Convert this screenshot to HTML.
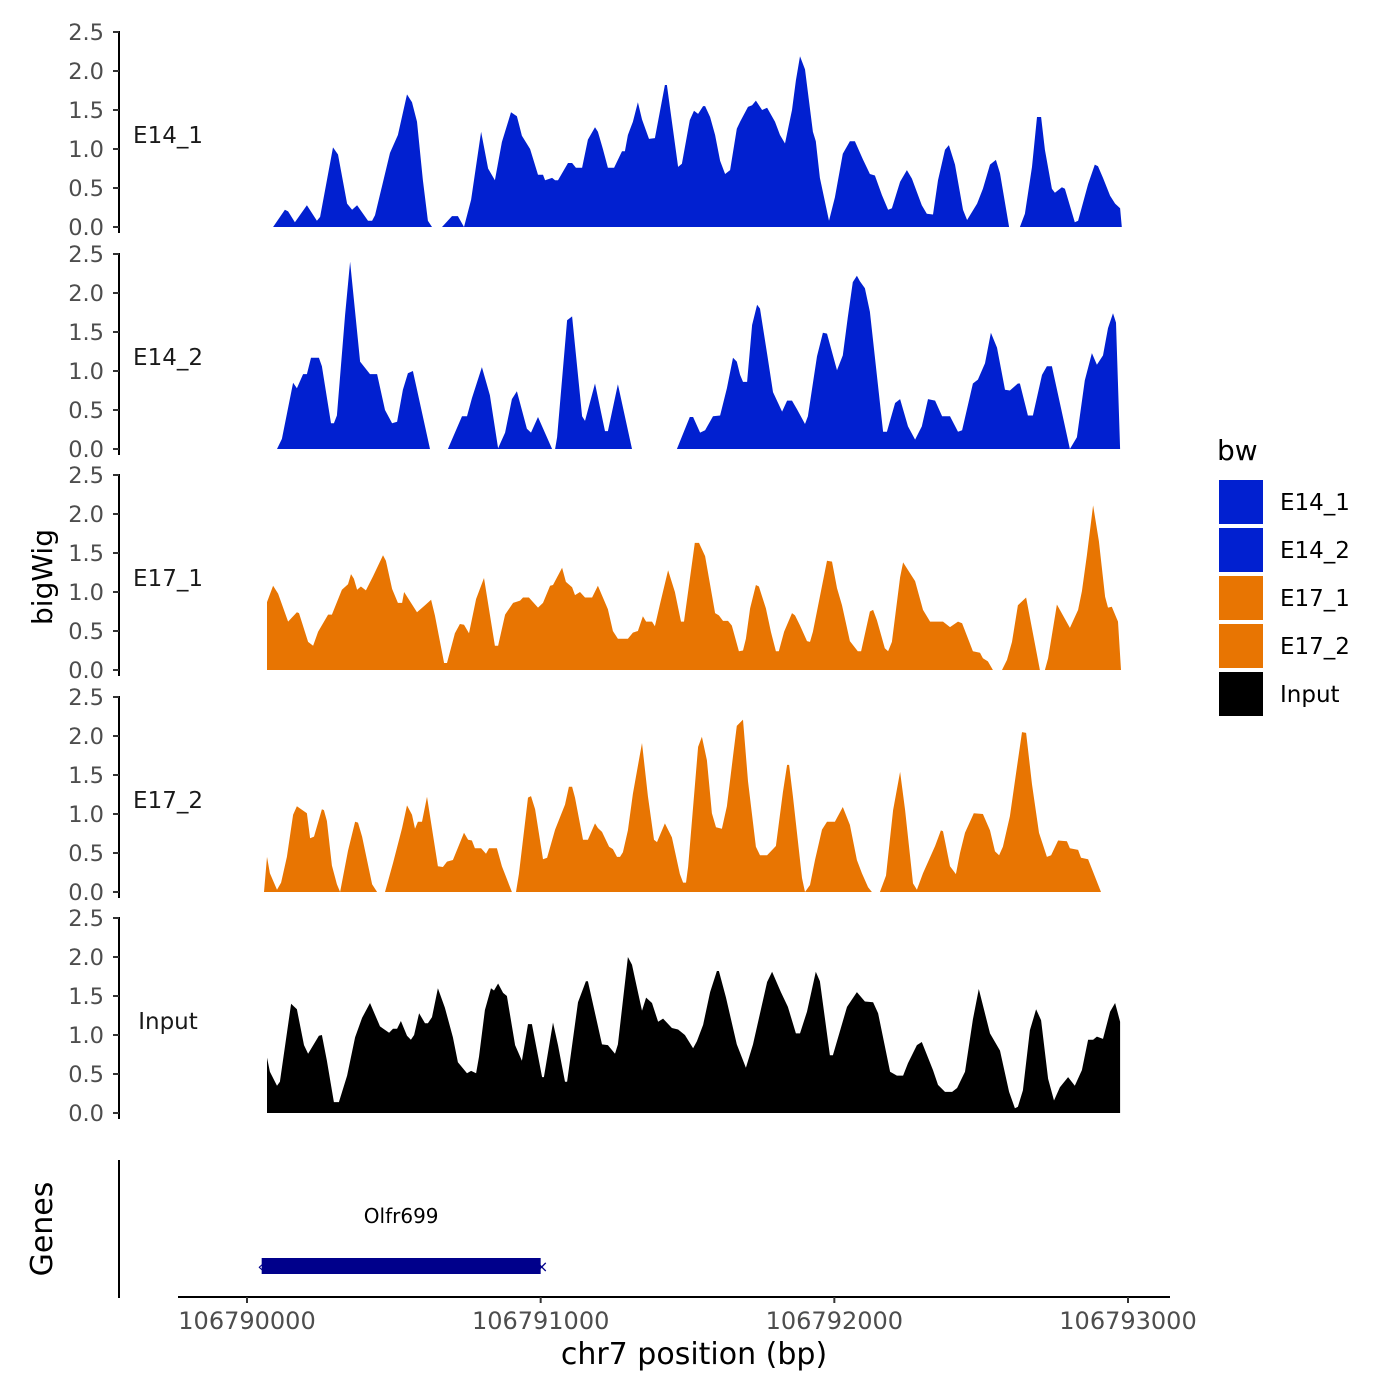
<!DOCTYPE html>
<html><head><meta charset="utf-8"><style>
html,body{margin:0;padding:0;background:#fff;}
svg{display:block;font-family:"DejaVu Sans","Liberation Sans",sans-serif;}
</style></head><body>
<svg id="chart" width="1400" height="1400" viewBox="0 0 1400 1400" xmlns="http://www.w3.org/2000/svg">
<g id="panels"></g>
<g id="legend"></g>
<g id="xaxis"></g>
<text x="0" y="0" transform="translate(52,577) rotate(-90)" text-anchor="middle" font-size="28" fill="#000">bigWig</text>
<text x="0" y="0" transform="translate(52,1229) rotate(-90)" text-anchor="middle" font-size="30" fill="#000">Genes</text>
<text x="694" y="1364" text-anchor="middle" font-size="30" fill="#000">chr7 position (bp)</text>
</svg>
<script>
const START = 106790000;
const trackNames = ["E14_1","E14_2","E17_1","E17_2","Input"];
const trackColors = ["#0120D0","#0120D0","#E87502","#E87502","#000000"];
const yTicks = [0,0.5,1,1.5,2,2.5];
const xTicks = [106790000,106791000,106792000,106793000];
const xTickLabels = ["106790000","106791000","106792000","106793000"];
const genes = ["Olfr699"];
const geneStart = [106790050];
const geneEnd = [106791000];

const posE14_1 = [89,129,140,163,204,238,249,293,310,341,358,375,412,426,436,487,514,545,562,579,599,616,630,640,664,698,718,739,763,797,821,844,868,899,919,936,964,991,1008,1015,1039,1049,1059,1093,1107,1120,1141,1161,1185,1195,1212,1229,1250,1277,1287,1297,1314,1331,1345,1369,1389,1423,1430,1468,1481,1508,1522,1536,1553,1560,1577,1594,1611,1628,1645,1668,1679,1706,1720,1733,1754,1771,1798,1815,1832,1856,1869,1883,1900,1927,1937,1951,1982,2002,2029,2053,2070,2097,2121,2138,2162,2183,2196,2224,2247,2264,2298,2315,2336,2353,2377,2390,2411,2438,2452,2486,2506,2530,2550,2564,2595,2610,2632,2649,2673,2690,2704,2717,2741,2751,2775,2785,2819,2830,2864,2887,2898,2915,2939,2956,2973,2979];
const valE14_1 = [0,.22,.2,.06,.28,.08,.13,1.02,.93,.3,.22,.28,.08,.08,.15,.95,1.18,1.7,1.6,1.35,.6,.08,0,null,0,.14,.14,0,.35,1.22,.75,.6,1.09,1.47,1.42,1.17,1.0,.67,.67,.6,.63,.6,.6,.82,.82,.76,.76,1.12,1.28,1.22,1.0,.76,.76,.97,.97,1.18,1.35,1.6,1.38,1.13,1.14,1.82,1.82,.77,.81,1.37,1.49,1.45,1.55,1.55,1.41,1.18,.85,.68,.73,1.26,1.35,1.54,1.56,1.62,1.5,1.53,1.35,1.18,1.07,1.5,1.88,2.19,2.02,1.22,1.1,.63,.08,.38,.94,1.1,1.1,.87,.68,.66,.41,.22,.24,.58,.73,.62,.28,.17,.16,.6,.99,1.05,.8,.22,.09,.3,.49,.8,.86,.69,0,null,0,.17,.77,1.41,1.41,.99,.49,.44,.51,.49,.06,.08,.55,.8,.78,.63,.4,.3,.24,0];

const posE14_2 = [102,119,157,170,191,204,218,245,255,286,296,306,334,351,385,419,443,470,494,511,531,548,565,623,650,684,732,749,766,800,827,855,879,902,919,953,967,991,1039,1044,1049,1056,1090,1107,1141,1151,1185,1219,1229,1263,1311,1400,1464,1508,1519,1543,1560,1587,1611,1634,1655,1668,1679,1689,1703,1720,1737,1747,1771,1791,1822,1839,1856,1873,1900,1910,1941,1961,1975,2009,2029,2046,2063,2077,2087,2104,2121,2166,2179,2207,2224,2251,2275,2298,2319,2343,2367,2394,2421,2435,2472,2489,2513,2533,2554,2581,2598,2625,2632,2659,2676,2707,2724,2741,2802,2826,2853,2877,2894,2915,2932,2949,2959,2973];
const valE14_2 = [0,.13,.85,.78,.96,.96,1.17,1.17,1.06,.33,.33,.43,1.72,2.4,1.12,.96,.96,.5,.33,.35,.76,.97,1.0,0,null,0,.42,.42,.65,1.05,.69,.01,.21,.64,.74,.26,.21,.41,0,null,0,.15,1.65,1.7,.42,.36,.84,.23,.23,.83,0,null,0,.41,.41,.21,.24,.42,.43,.78,1.17,1.12,.95,.86,.86,1.59,1.85,1.8,1.22,.73,.48,.62,.62,.51,.32,.42,1.19,1.49,1.48,1.01,1.2,1.69,2.14,2.22,2.15,2.06,1.76,.22,.22,.59,.64,.29,.12,.29,.64,.62,.42,.42,.22,.24,.84,.89,1.1,1.49,1.3,.76,.75,.84,.84,.43,.43,.95,1.06,1.06,0,.15,.88,1.23,1.08,1.2,1.55,1.74,1.62,0];

const posE17_1 = [68,89,106,140,170,177,208,225,242,276,289,323,344,354,364,375,388,405,429,463,473,494,514,528,535,579,606,627,640,671,681,708,725,739,756,780,807,844,855,879,906,930,940,960,991,1008,1032,1042,1073,1086,1107,1117,1134,1151,1175,1195,1229,1246,1263,1297,1314,1331,1348,1359,1379,1389,1406,1434,1457,1478,1488,1525,1539,1560,1594,1607,1621,1638,1651,1675,1689,1699,1713,1733,1743,1767,1784,1801,1811,1829,1856,1866,1883,1907,1917,1927,1975,1992,2009,2026,2053,2080,2091,2121,2132,2145,2172,2183,2196,2224,2234,2275,2302,2326,2370,2394,2421,2435,2472,2496,2506,2523,2540,2555,2571,2588,2605,2625,2653,2700,2708,2717,2728,2758,2802,2830,2843,2860,2881,2901,2922,2932,2945,2966,2976];
const valE17_1 = [.87,1.08,.98,.62,.74,.73,.36,.31,.49,.71,.71,1.03,1.1,1.23,1.17,1.03,1.07,1.02,1.2,1.47,1.4,1.04,.86,.86,1.0,.74,.83,.9,.7,.09,.09,.47,.59,.58,.47,.91,1.18,.31,.31,.71,.86,.89,.93,.93,.8,.86,1.08,1.09,1.31,1.13,1.06,.96,1.0,.93,.93,1.08,.78,.5,.4,.4,.48,.5,.69,.62,.62,.56,.84,1.28,1.0,.62,.62,1.63,1.63,1.46,.73,.7,.63,.63,.57,.24,.25,.4,.79,1.09,1.07,.79,.49,.24,.24,.49,.73,.7,.57,.37,.36,.49,1.4,1.39,1.05,.83,.37,.24,.24,.75,.77,.64,.28,.24,.36,1.19,1.38,1.14,.77,.62,.62,.55,.62,.6,.24,.22,.15,.11,0,null,0,.13,.36,.83,.93,0,null,0,.15,.84,.54,.77,1.01,1.47,2.11,1.65,.94,.8,.81,.62,0];

const posE17_2 = [58,68,78,102,116,136,157,170,204,215,228,255,262,272,289,306,317,344,368,378,392,426,443,456,470,497,528,545,562,572,582,596,613,650,667,681,701,739,753,766,776,797,814,824,851,868,902,909,916,926,957,967,981,1008,1022,1049,1083,1096,1107,1117,1144,1161,1185,1195,1209,1233,1246,1260,1270,1280,1297,1314,1345,1365,1386,1396,1423,1447,1474,1485,1495,1502,1536,1549,1566,1583,1597,1617,1634,1655,1668,1689,1706,1733,1747,1771,1801,1825,1839,1846,1859,1890,1900,1917,1934,1958,1975,2002,2029,2053,2077,2094,2115,2128,2140,2155,2176,2200,2224,2241,2268,2281,2302,2343,2363,2370,2394,2414,2428,2445,2475,2506,2530,2547,2561,2574,2598,2615,2639,2653,2673,2697,2724,2738,2762,2792,2802,2830,2840,2864,2908];
const valE17_2 = [0,.45,.24,.03,.12,.45,.99,1.1,1.01,.69,.71,1.06,1.05,.91,.34,.1,0,.53,.9,.89,.71,.1,0,null,0,.37,.82,1.11,.99,.81,.9,.9,1.22,.33,.32,.39,.41,.76,.67,.66,.56,.56,.49,.56,.56,.33,0,null,0,.23,1.21,1.23,1.06,.42,.44,.8,1.12,1.35,1.35,1.21,.67,.67,.88,.82,.77,.58,.55,.45,.45,.51,.79,1.26,1.91,1.23,.67,.64,.88,.7,.23,.12,.12,.32,1.86,1.99,1.69,1.01,.83,.81,1.1,1.74,2.13,2.21,1.42,.58,.47,.47,.59,1.28,1.63,1.63,1.23,.18,0,.09,.41,.8,.9,.9,1.09,.86,.41,.24,.06,0,null,0,.21,1.05,1.54,1.05,.11,.03,.24,.59,.79,.78,.33,.23,.5,.76,1.01,1.0,.79,.52,.47,.58,.97,1.42,2.05,2.04,1.38,.76,.45,.47,.66,.65,.56,.54,.44,.42,0];

const posInput = [68,78,102,112,150,170,194,208,245,255,272,296,313,341,368,392,419,453,484,497,511,524,545,558,569,586,606,616,630,650,674,701,718,749,763,780,790,810,831,841,855,872,885,913,936,957,970,1005,1011,1042,1059,1083,1090,1127,1154,1161,1209,1229,1253,1263,1297,1311,1345,1359,1379,1400,1417,1447,1468,1491,1519,1532,1553,1577,1600,1607,1631,1668,1699,1723,1771,1788,1818,1842,1869,1883,1907,1937,1951,1985,1995,2043,2077,2104,2132,2149,2190,2213,2234,2251,2281,2298,2336,2353,2377,2401,2418,2445,2472,2492,2530,2564,2595,2615,2625,2642,2666,2687,2704,2728,2748,2768,2796,2819,2843,2864,2881,2894,2915,2939,2956,2973];
const valInput = [.71,.53,.35,.4,1.4,1.33,.87,.76,.99,1.0,.67,.14,.14,.48,.97,1.22,1.41,1.11,1.03,1.08,1.08,1.18,.99,.94,1.0,1.28,1.15,1.15,1.23,1.6,1.35,.97,.65,.51,.54,.51,.72,1.32,1.6,1.57,1.66,1.54,1.5,.87,.67,1.14,1.14,.46,.46,1.16,.87,.4,.4,1.42,1.69,1.69,.88,.87,.76,.88,2.0,1.9,1.31,1.48,1.41,1.17,1.21,1.09,1.07,1.0,.83,.92,1.13,1.55,1.82,1.82,1.48,.88,.58,.88,1.68,1.81,1.55,1.36,1.02,1.02,1.3,1.81,1.69,.74,.74,1.36,1.55,1.43,1.42,1.28,.53,.48,.48,.64,.87,.91,.55,.36,.27,.27,.32,.53,1.2,1.59,1.02,.8,.27,.06,.08,.29,1.06,1.33,1.19,.44,.16,.33,.46,.35,.55,.94,.94,.98,.95,1.3,1.41,1.17];

const trackPos = [posE14_1,posE14_2,posE17_1,posE17_2,posInput];
const trackVal = [valE14_1,valE14_2,valE17_1,valE17_2,valInput];

const NS = "http://www.w3.org/2000/svg";
const X0 = 247, X1 = 1128;
function xScale(bp){ return X0 + (bp - START) / 3000 * (X1 - X0); }
const panelZero = [227,449,670,892,1113];
const PXU = 78;
function yScale(i, v){ return panelZero[i] - v * PXU; }
function mk(tag, attrs, parent){ const e = document.createElementNS(NS, tag); for (const k in attrs) e.setAttribute(k, attrs[k]); parent.appendChild(e); return e; }

const panels = document.getElementById("panels");
trackNames.forEach((name, i) => {
  const g = mk("g", {}, panels);
  
  
  const ax = mk("line", {x1:119, x2:119, y1:yScale(i,2.5)-1, y2:panelZero[i]+6, stroke:"#000", "stroke-width":2}, g);
  
  
  yTicks.forEach(t => {
    const y = yScale(i, t);
    const tk = mk("line", {x1:113, x2:119, y1:y, y2:y, stroke:"#333", "stroke-width":2}, g);
    
    
    const tl = mk("text", {x:104, y:y+8, "text-anchor":"end", "font-size":22.5, fill:"#4d4d4d"}, g);
    tl.textContent = t.toFixed(1);
    
    
  });
  const lab = mk("text", {x:168, y:panelZero[i]-84, "text-anchor":"middle", "font-size":23, fill:"#1a1a1a"}, g);
  lab.textContent = name;
  
  
  const P = trackPos[i], V = trackVal[i];
  let d = "", seg = [];
  const flush = () => {
    if (seg.length) {
      const base = panelZero[i];
      d += "M" + xScale(START + seg[0][0]).toFixed(1) + "," + base;
      seg.forEach(p => { d += "L" + xScale(START + p[0]).toFixed(1) + "," + yScale(i, p[1]).toFixed(1); });
      d += "L" + xScale(START + seg[seg.length-1][0]).toFixed(1) + "," + base + "Z";
    }
    seg = [];
  };
  for (let k = 0; k < P.length; k++) {
    if (V[k] === null) flush(); else seg.push([P[k], V[k]]);
  }
  flush();
  const area = mk("path", {d:d, fill:trackColors[i]}, g);
  
  
});

const xa = document.getElementById("xaxis");
const gax = mk("line", {x1:119, x2:119, y1:1160, y2:1298, stroke:"#000", "stroke-width":2}, xa);


const bx = mk("line", {x1:178, x2:1170, y1:1297, y2:1297, stroke:"#000", "stroke-width":2}, xa);


xTicks.forEach((t, k) => {
  const x = xScale(t);
  const tk = mk("line", {x1:x, x2:x, y1:1297, y2:1303, stroke:"#333", "stroke-width":2}, xa);
  
  
  const tl = mk("text", {x:x, y:1329, "text-anchor":"middle", "font-size":24, fill:"#4d4d4d"}, xa);
  tl.textContent = xTickLabels[k];
  
  
});
genes.forEach((gn, k) => {
  const x1 = xScale(geneStart[k]), x2 = xScale(geneEnd[k]);
  const r = mk("rect", {x:x1, y:1258, width:x2-x1, height:16, fill:"#00008B"}, xa);
  
  
  const m1 = mk("text", {x:x1-1, y:1272, "text-anchor":"middle", "font-size":16, fill:"#00008B"}, xa);
  m1.textContent = "‹";
  
  
  const m2 = mk("text", {x:x2+1, y:1272, "text-anchor":"middle", "font-size":16, fill:"#00008B"}, xa);
  m2.textContent = "×";
  
  
  const gl = mk("text", {x:(x1+x2)/2, y:1223, "text-anchor":"middle", "font-size":20, fill:"#000"}, xa);
  gl.textContent = gn;
  
  
});

const lg = document.getElementById("legend");
const lt = mk("text", {x:1217, y:460, "font-size":28, fill:"#000"}, lg);
lt.textContent = "bw";


trackNames.forEach((name, i) => {
  const y = 480 + i * 48;
  const ge = mk("g", {}, lg);
  
  
  const sw = mk("rect", {x:1219, y:y, width:44, height:44, fill:trackColors[i]}, ge);
  
  
  const tx = mk("text", {x:1280, y:y+30, "font-size":23, fill:"#000"}, ge);
  tx.textContent = name;
  
  
});
</script>
</body></html>
